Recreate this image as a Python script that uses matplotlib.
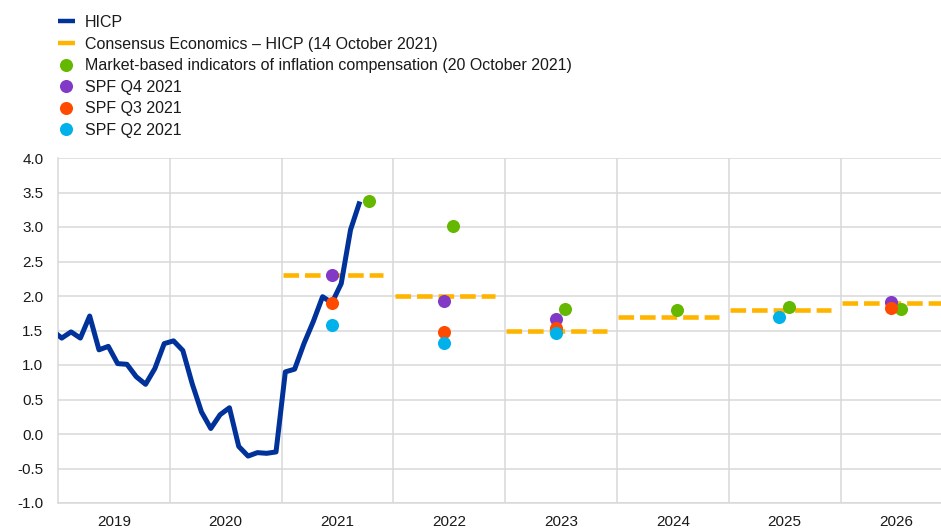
import matplotlib
matplotlib.use("Agg")
import matplotlib.pyplot as plt
from matplotlib.lines import Line2D
import numpy as np

plt.rcParams['font.family'] = ['Liberation Sans', 'DejaVu Sans']

# ---------------- data ----------------
# HICP, monthly, Dec 2018 .. Sep 2021 (annual % change)
hicp_start = (2018, 12)
hicp_values = [1.50, 1.39, 1.48, 1.39, 1.71, 1.22, 1.27, 1.02, 1.01, 0.83, 0.72, 0.95,
               1.31, 1.35, 1.21, 0.73, 0.32, 0.08, 0.28, 0.38, -0.18, -0.32, -0.27, -0.28,
               -0.26, 0.90, 0.94, 1.31, 1.63, 1.99, 1.90, 2.18, 2.96, 3.37]

# Consensus Economics – HICP (14 October 2021), annual
cons_years = [2021, 2022, 2023, 2024, 2025, 2026]
cons_values = [2.3, 2.0, 1.5, 1.7, 1.8, 1.9]

# Market-based indicators of inflation compensation (20 October 2021)
mkt_x = [2021.78, 2022.535, 2023.535, 2024.535, 2025.535, 2026.54]
mkt_values = [3.37, 3.01, 1.81, 1.79, 1.84, 1.81]

# SPF rounds
spf_q4_years = [2021, 2022, 2023, 2026]
spf_q4_values = [2.30, 1.93, 1.66, 1.91]
spf_q3_years = [2021, 2022, 2023, 2026]
spf_q3_values = [1.90, 1.48, 1.53, 1.82]
spf_q2_years = [2021, 2022, 2023, 2025]
spf_q2_values = [1.58, 1.32, 1.47, 1.69]

year_labels = ['2019', '2020', '2021', '2022', '2023', '2024', '2025', '2026']

labels = ['HICP',
          'Consensus Economics \u2013 HICP (14 October 2021)',
          'Market-based indicators of inflation compensation (20 October 2021)',
          'SPF Q4 2021', 'SPF Q3 2021', 'SPF Q2 2021']

# ---------------- styles ----------------
C_HICP = '#003299'
C_CONS = '#FFB400'
C_MKT = '#65B800'
C_Q4 = '#8139C6'
C_Q3 = '#FF4B00'
C_Q2 = '#00B1EA'
GRID = '#d9d9d9'
TXT = '#1a1a1a'

fig = plt.figure(figsize=(9.41, 5.29), dpi=100)
ax = fig.add_axes([58 / 941, 1 - 503 / 529, 883 / 941, 345 / 529])

# HICP line
n = len(hicp_values)
hicp_x = hicp_start[0] + (hicp_start[1] - 1 + 0.4) / 12 + np.arange(n) / 12
ax.plot(hicp_x, hicp_values, color=C_HICP, lw=3.6, solid_joinstyle='round',
        solid_capstyle='butt', zorder=3)

# Consensus dashed lines
for yr, v in zip(cons_years, cons_values):
    ax.plot([yr + 0.01, yr + 0.91], [v, v], color=C_CONS, lw=3.3,
            dashes=(3.4, 1.3), dash_capstyle='butt', zorder=2)

ms = 9.4
ax.plot(mkt_x, mkt_values, 'o', color=C_MKT, ms=ms, mec='none', zorder=4)
spf_off = 0.45
ax.plot(np.array(spf_q4_years) + spf_off, spf_q4_values, 'o', color=C_Q4, ms=ms, mec='none', zorder=5)
ax.plot(np.array(spf_q3_years) + spf_off, spf_q3_values, 'o', color=C_Q3, ms=ms, mec='none', zorder=6)
ax.plot(np.array(spf_q2_years) + spf_off, spf_q2_values, 'o', color=C_Q2, ms=ms, mec='none', zorder=7)

# axes
ax.set_xlim(2019, 2019 + 883 / 111.8)
ax.set_ylim(-1.0, 4.0)
ax.set_yticks(np.arange(-1.0, 4.01, 0.5))
ax.set_yticklabels([f'{v:.1f}' for v in np.arange(-1.0, 4.01, 0.5)])
ax.set_xticks(np.arange(2019, 2027) + 0.5)
ax.set_xticklabels(year_labels)
ax.set_xticks(np.arange(2020, 2027), minor=True)
ax.tick_params(which='both', length=0)
ax.tick_params(axis='y', pad=10.6, labelsize=11, labelcolor=TXT)
ax.tick_params(axis='x', pad=8.3, labelsize=11, labelcolor=TXT)
ax.grid(which='minor', axis='x', color=GRID, lw=1.1)
ax.grid(which='major', axis='y', color=GRID, lw=1.1)
ax.set_axisbelow(True)
for s in ['top', 'right']:
    ax.spines[s].set_visible(False)
for s in ['left', 'bottom']:
    ax.spines[s].set_color(GRID)
    ax.spines[s].set_linewidth(1.1)

# legend
handles = [
    Line2D([], [], color=C_HICP, lw=3.2, solid_capstyle='butt'),
    Line2D([], [], color=C_CONS, lw=3.2, solid_capstyle='butt'),
    Line2D([], [], ls='none', marker='o', color=C_MKT, ms=ms, mec='none'),
    Line2D([], [], ls='none', marker='o', color=C_Q4, ms=ms, mec='none'),
    Line2D([], [], ls='none', marker='o', color=C_Q3, ms=ms, mec='none'),
    Line2D([], [], ls='none', marker='o', color=C_Q2, ms=ms, mec='none'),
]
leg = fig.legend(handles, labels, loc='upper left',
                 bbox_to_anchor=(58 / 941, 1 - 15 / 529), frameon=False,
                 fontsize=11.5, handlelength=1.05, handletextpad=0.62,
                 labelspacing=0.41, borderpad=0, borderaxespad=0)
for t in leg.get_texts():
    t.set_color(TXT)

fig.savefig('out.png', dpi=100)
